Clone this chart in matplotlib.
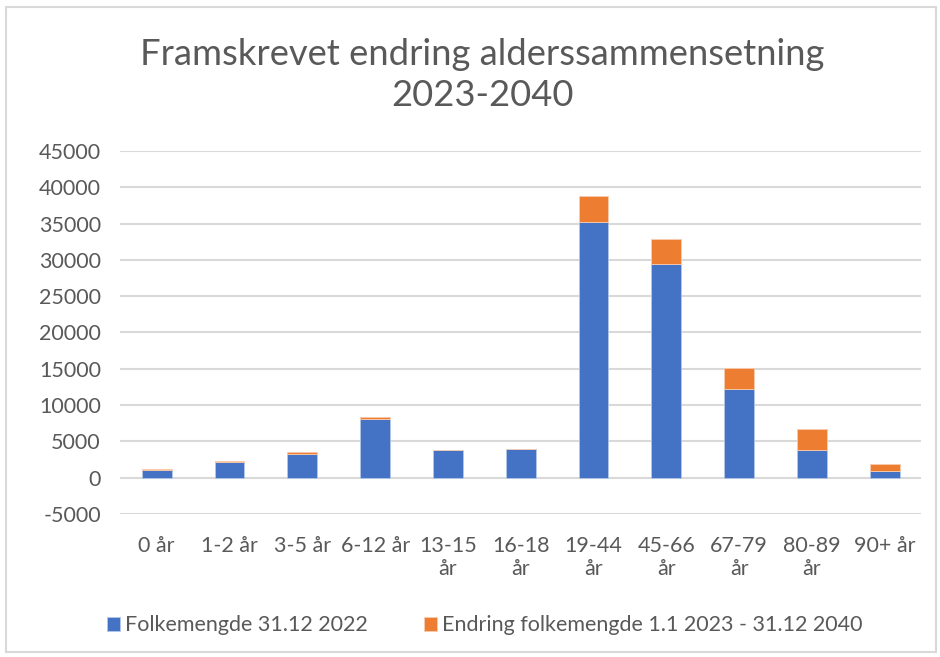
import matplotlib

matplotlib.use("agg")
from matplotlib import pyplot as plt
from matplotlib.patches import Rectangle
import numpy as np

categories = ["0 år", "1-2 år", "3-5 år", "6-12 år", "13-15\når", "16-18\når",
              "19-44\når", "45-66\når", "67-79\når", "80-89\når", "90+ år"]
folkemengde_2022 = [1000, 2100, 3250, 8000, 3800, 3950, 35250, 29450, 12150, 3850, 830]
endring_2023_2040 = [180, 150, 230, 400, 0, 0, 3600, 3480, 3000, 2800, 1040]
yticks = list(range(-5000, 45001, 5000))

blue = "#4472C4"
orange = "#ED7D31"
grey = "#595959"

plt.rcParams["font.family"] = ["Lato", "DejaVu Sans"]

fig = plt.figure(figsize=(9.4, 6.57), dpi=100)
fig.patches.append(Rectangle((0.006, 0.008), 0.99, 0.982, transform=fig.transFigure,
                             fill=False, edgecolor="#d9d9d9", linewidth=1.5))
ax = fig.add_axes([0.128, 0.218, 0.852, 0.552])

x = np.arange(len(categories))
ax.bar(x, folkemengde_2022, width=0.41, color=blue, edgecolor="#b4c7e7", linewidth=0.6,
       label="Folkemengde 31.12 2022", zorder=3)
ax.bar(x, endring_2023_2040, width=0.41, bottom=folkemengde_2022, color=orange,
       edgecolor="#f8cbad", linewidth=0.6,
       label="Endring folkemengde 1.1 2023 - 31.12 2040", zorder=3)

ax.set_xlim(-0.5, len(categories) - 0.5)
ax.set_ylim(-5000, 45000)
ax.set_yticks(yticks)
ax.set_yticklabels([str(v) for v in yticks])
ax.set_xticks(x)
ax.set_xticklabels(categories, linespacing=1.2)
ax.grid(axis="y", color="#d9d9d9", linewidth=1.5, zorder=0)
for s in ax.spines.values():
    s.set_visible(False)
ax.tick_params(axis="both", length=0, labelsize=15.5, colors=grey)
ax.tick_params(axis="x", pad=16)
ax.tick_params(axis="y", pad=14)

fig.text(0.513, 0.886, "Framskrevet endring alderssammensetning\n2023-2040",
         ha="center", va="center", fontsize=26.2, color=grey, linespacing=1.3)

fig.legend(loc="center", bbox_to_anchor=(0.516, 0.048), ncol=2, frameon=False,
           fontsize=15.5, labelcolor=grey, handlelength=0.6, handleheight=0.6,
           handletextpad=0.25, columnspacing=2.6)

fig.savefig("out.png", dpi=100)
